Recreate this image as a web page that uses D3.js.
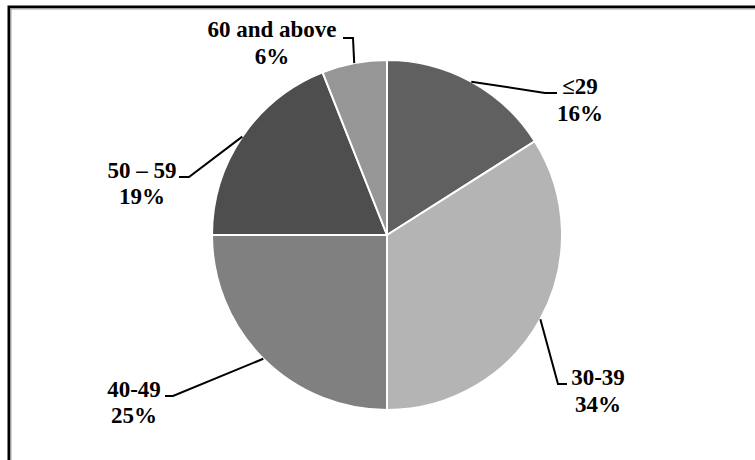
<!DOCTYPE html>
<html>
<head>
<meta charset="utf-8">
<script src="https://cdn.jsdelivr.net/npm/d3@7"></script>
<style>
  html, body { margin: 0; padding: 0; background: #fff; }
  svg { display: block; }
</style>
</head>
<body>
<svg id="chart" width="755" height="460"></svg>
<script>
// ---- data ----
const categories = ["\u226429", "30-39", "40-49", "50 \u2013 59", "60 and above"];
const percents = [16, 34, 25, 19, 6];
const colors = ["#606060", "#b4b4b4", "#808080", "#4e4e4e", "#969696"];

const W = 755, H = 460;
const svg = d3.select("#chart");

// frame (border runs off the right / bottom edges)
svg.append("rect").attr("x", 10.5).attr("y", 8.5).attr("width", W + 20).attr("height", H + 20)
  .attr("fill", "none").attr("stroke", "#a0a0a0").attr("stroke-width", 2);
svg.append("rect").attr("x", 8.75).attr("y", 6.75).attr("width", W + 20).attr("height", H + 20)
  .attr("fill", "none").attr("stroke", "#000").attr("stroke-width", 2.5);

const cx = 387, cy = 235, R = 175;
const g = svg.append("g").attr("transform", `translate(${cx},${cy})`);

const pie = d3.pie().sort(null).value(d => d);
const arcs = pie(percents);
const arc = d3.arc().innerRadius(0).outerRadius(R);

g.selectAll("path.slice").data(arcs).enter().append("path")
  .attr("class", "slice")
  .attr("d", arc)
  .attr("fill", (d, i) => colors[i])
  .attr("stroke", "#fff")
  .attr("stroke-width", 2)
  .attr("stroke-linejoin", "round");

// label layout: elbow point, end of horizontal tick, text anchor center, baselines
const labelLayout = [
  { elbow: [545, 93],  end: [557, 93],  tx: 580, b1: 94,  b2: 121 },
  { elbow: [558, 384], end: [567, 384], tx: 598, b1: 385, b2: 412 },
  { elbow: [173, 396], end: [165, 396], tx: 134, b1: 397, b2: 423 },
  { elbow: [189, 177], end: [179, 177], tx: 142, b1: 178, b2: 204 },
  { elbow: [353, 38],  end: [343, 38],  tx: 272, b1: 37,  b2: 64 }
];

arcs.forEach((d, i) => {
  const a = (d.startAngle + d.endAngle) / 2;
  const p = [cx + R * Math.sin(a), cy - R * Math.cos(a)];
  const L = labelLayout[i];
  svg.append("polyline")
    .attr("points", [p, L.elbow, L.end].map(q => q.join(",")).join(" "))
    .attr("fill", "none").attr("stroke", "#000").attr("stroke-width", 2);
  const t = svg.append("text")
    .attr("text-anchor", "middle")
    .attr("font-family", "'Liberation Serif', 'Times New Roman', serif")
    .attr("font-weight", "bold")
    .attr("font-size", 23)
    .attr("fill", "#000");
  t.append("tspan").attr("x", L.tx).attr("y", L.b1).text(categories[i]);
  t.append("tspan").attr("x", L.tx).attr("y", L.b2).text(percents[i] + "%");
});
</script>
</body>
</html>
